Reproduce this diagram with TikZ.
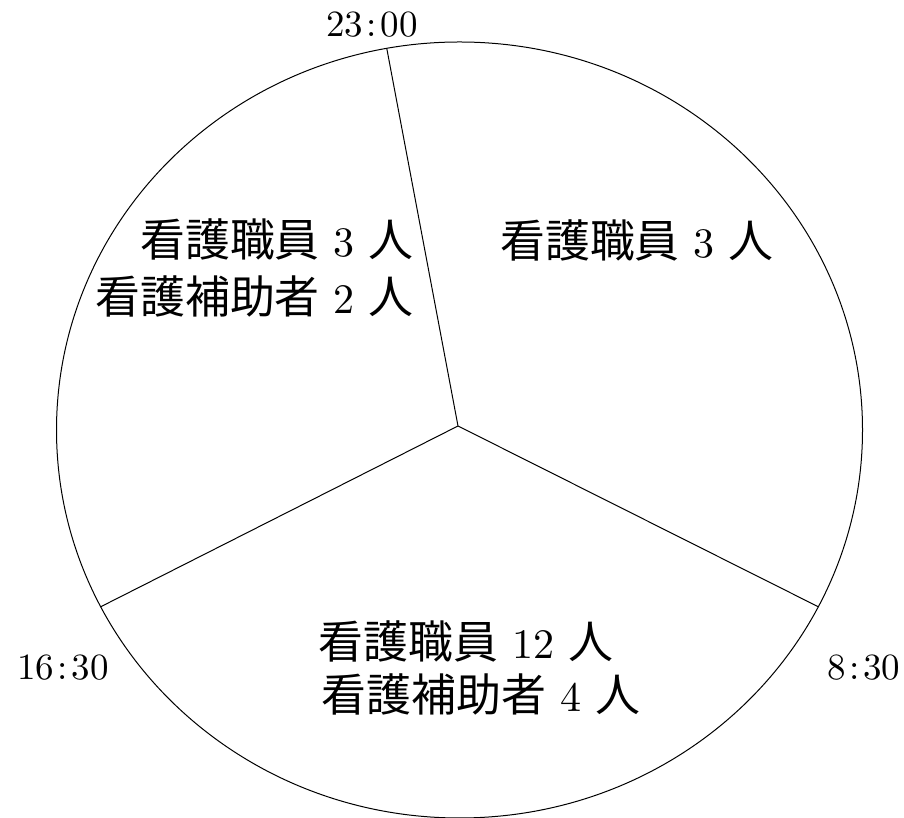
\documentclass[tikz,border=0pt]{standalone}
\usepackage{fontspec}
\setmainfont{lmroman10-regular}[Extension=.otf]
\newfontfamily\jp[Scale=1.07]{Noto Sans CJK JP}
\newcommand{\kj}[1]{{\jp #1}}

\begin{document}
\begin{tikzpicture}[x=1pt,y=1pt,
  staff/.style={inner sep=0pt,font=\fontsize{42}{57}\selectfont},
  clock/.style={inner sep=0pt,font=\fontsize{37}{40}\selectfont}]
\useasboundingbox (0,0) rectangle (904,818);

\coordinate (c) at (459.5,388);
\coordinate (hub) at (458,392);
\draw[line width=1pt] (c) ellipse [x radius=403pt, y radius=388pt];

\path (c) ++(100.4:403pt and 388pt) coordinate (p23);
\path (c) ++(207.1:403pt and 388pt) coordinate (p1630);
\path (c) ++(332.9:403pt and 388pt) coordinate (p830);

\draw[line width=1pt] (hub) -- (p23);
\draw[line width=1pt] (hub) -- (p1630);
\draw[line width=1pt] (hub) -- (p830);

\node[clock] (t23) at (372,793) {23\kern3.5pt:\kern3.5pt00};
\node[clock] (t1630) at (63,150) {16\kern3.5pt:\kern3.5pt30};
\node[clock] (t830) at (864,150) {8\kern3.5pt:\kern3.5pt30};

\node[staff,anchor=east,align=right] (night) at (414,550)
  {\kj{看護職員} 3 \kj{人}\\ \kj{看護補助者} 2 \kj{人}};
\node[staff] (morning) at (637,578) {\kj{看護職員} 3 \kj{人}};
\node[staff] (day1) at (466,177) {\kj{看護職員} 12 \kj{人}};
\node[staff] (day2) at (481,124) {\kj{看護補助者} 4 \kj{人}};

\end{tikzpicture}
\end{document}
